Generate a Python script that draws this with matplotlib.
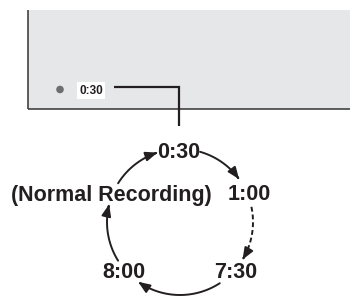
import numpy as np
import matplotlib.pyplot as plt
from matplotlib.patches import Rectangle, Circle, FancyArrowPatch
from matplotlib.path import Path

# Mode cycle labels and their positions (pixel coords of the label centres)
mode_labels = ["0:30", "1:00", "7:30", "8:00", "(Normal Recording)"]
label_x = [179, 249, 236, 124, 111]
label_y = [152, 195, 273, 273, 195]

# Arrow arcs on the cycle circle: start / end angle in degrees, dashed or not
arc_start = [74, 12, -57, -148, 148]
arc_end = [36, -31, -125, -194, 108]
arc_dashed = [False, True, False, False, False]

display_label = "0:30"

cx, cy, r = 180, 222, 73
ink = "#231f20"

fig = plt.figure(figsize=(3.5, 2.97), dpi=100)
ax = fig.add_axes([0, 0, 1, 1])
ax.set_xlim(0, 350)
ax.set_ylim(297, 0)
ax.axis("off")

# display panel
ax.add_patch(Rectangle((27.5, 10), 322, 99, facecolor="#e6e7e9", edgecolor="none"))
ax.plot([27.5, 27.5], [10, 109], color="#333333", lw=1.1, solid_capstyle="butt")
ax.plot([27.5, 350], [109, 109], color="#333333", lw=1.1, solid_capstyle="butt")

ax.add_patch(Circle((60, 89.5), 3.8, facecolor="#6d6e71", edgecolor="none"))
ax.text(91, 90.5, display_label, ha="center", va="center", fontsize=8.5,
        fontweight="bold", family="Liberation Sans", color=ink,
        bbox=dict(boxstyle="square,pad=0.22", facecolor="white", edgecolor="none"))

# leader line from the display to the cycle
ax.plot([114, 179, 179], [87, 87, 126], color=ink, lw=1.6,
        solid_joinstyle="miter", solid_capstyle="butt")

for txt, x, y in zip(mode_labels, label_x, label_y):
    ax.text(x, y, txt, ha="center", va="center", fontsize=15.5,
            fontweight="bold", family="Liberation Sans", color=ink)


def arc_points(a0, a1, n=40):
    t = np.radians(np.linspace(a0, a1, n))
    return np.column_stack([cx + r * np.cos(t), cy - r * np.sin(t)])


for a0, a1, dashed in zip(arc_start, arc_end, arc_dashed):
    pts = arc_points(a0, a1)
    if dashed:
        ax.plot(pts[:-3, 0], pts[:-3, 1], color=ink, lw=1.4, ls=(0, (2.5, 1.5)))
        path = Path(pts[-4:])
    else:
        path = Path(pts)
    arrow = FancyArrowPatch(path=path, arrowstyle="-|>,head_length=0.7,head_width=0.28",
                            mutation_scale=10, color=ink, lw=1.4,
                            shrinkA=0, shrinkB=0)
    ax.add_patch(arrow)

fig.savefig("out.png", dpi=100)
